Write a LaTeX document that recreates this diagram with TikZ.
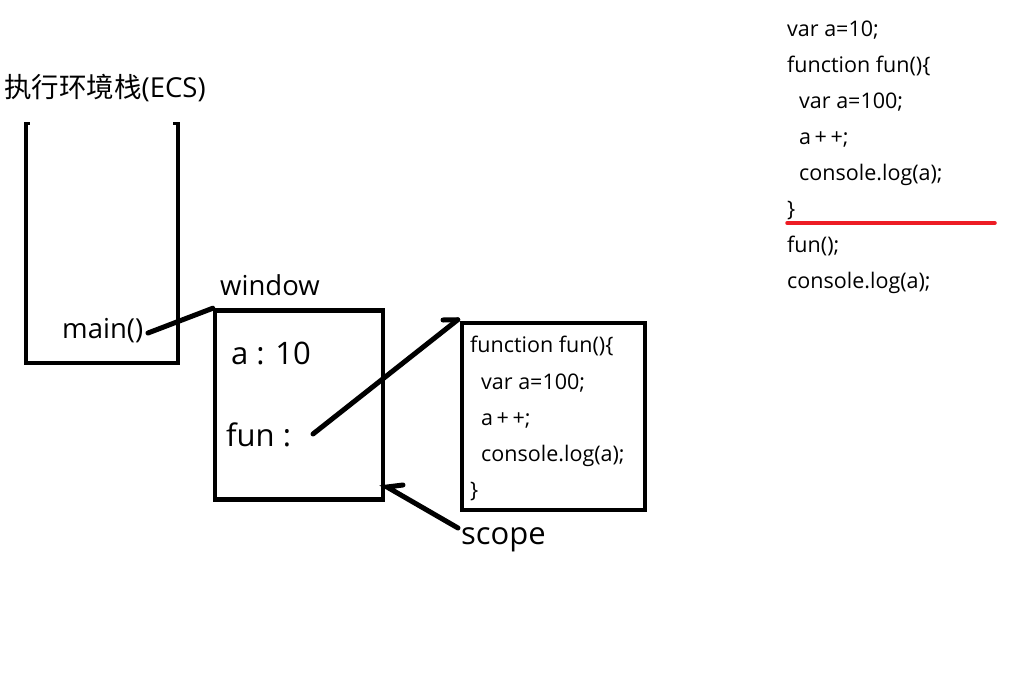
\documentclass[tikz,border=0pt]{standalone}
\usepackage{fontspec}
\setmainfont{Open Sans}
\newfontfamily\cjk{Noto Sans CJK SC}
\definecolor{redline}{RGB}{237,28,36}
\begin{document}
\begin{tikzpicture}[x=1pt,y=-1pt,
  thick line/.style={line width=4.5pt},
  conn/.style={line width=5pt,line cap=round},
  codetxt/.style={anchor=base west,inner sep=0pt,font=\fontsize{21.5}{24}\selectfont},
  rcode/.style={anchor=base west,inner sep=0pt,font=\fontsize{21.5}{24}\selectfont},
  bigtxt/.style={anchor=base west,inner sep=0pt,font=\fontsize{31}{34}\selectfont},
  midtxt/.style={anchor=base west,inner sep=0pt,font=\fontsize{27.5}{30}\selectfont}]
\useasboundingbox[fill=white] (0,0) rectangle (1018,686);
% title
\node[anchor=base west,inner sep=0pt,font=\fontsize{27.5}{30}\selectfont] (title) at (4,97) {{\cjk 执行环境栈}(ECS)};
% stack
\draw[thick line] (26,122) -- (26,363) -- (178,363) -- (178,122);
\draw[line width=3pt] (24.5,123) -- (30,123) (173,123) -- (179.5,123);
\node[midtxt] (main) at (62,338) {main()};
% window box
\node[draw,thick line,minimum width=168pt,minimum height=189pt,inner sep=0pt] (window) at (299,405) {};
\node[midtxt] (windowlbl) at (220,295) {window};
\node[bigtxt] (a10) at (231,364) {a : 10};
\node[bigtxt] (fun) at (226,446) {fun :};
% function box
\node[draw,thick line,minimum width=183pt,minimum height=187pt,inner sep=0pt] (funbox) at (553.5,416.5) {};
\node[codetxt] (f1) at (470,352) {function fun()\{};
\node[codetxt] (f2) at (481,389) {var a=100;};
\node[codetxt] (f3) at (481,425) {a\,+\,+;};
\node[codetxt] (f4) at (481,461) {console.log(a);};
\node[codetxt] (f5) at (470,497) {\}};
% scope
\node[bigtxt] (scope) at (461,544) {scope};
% connectors
\coordinate (mainend) at (148,333);
\coordinate (funstart) at (313,434);
\coordinate (funbarb) at (443,320);
\coordinate (scopestart) at (458,528);
\coordinate (scopetip) at (387,487);
\coordinate (scopebarb) at (403,485);
\draw[conn] (mainend) -- (window.north west);
\draw[conn] (funstart) -- ([xshift=-2pt,yshift=1pt]funbox.north west);
\draw[conn] (funbarb) -- ([xshift=-2pt,yshift=1pt]funbox.north west);
\draw[conn] (scopestart) -- (scopetip) -- (scopebarb);
% right code
\node[rcode] (r1) at (787,36) {var a=10;};
\node[rcode] (r2) at (787,72) {function fun()\{};
\node[rcode] (r3) at (799,108) {var a=100;};
\node[rcode] (r4) at (799,144) {a\,+\,+;};
\node[rcode] (r5) at (799,180) {console.log(a);};
\node[rcode] (r6) at (787,216) {\}};
\coordinate (redL) at (787,223);
\coordinate (redR) at (995,223);
\draw[redline,line width=3.5pt,line cap=round] (redL) -- (redR);
\node[rcode] (r7) at (787,252) {fun();};
\node[rcode] (r8) at (787,288) {console.log(a);};
\end{tikzpicture}
\end{document}
